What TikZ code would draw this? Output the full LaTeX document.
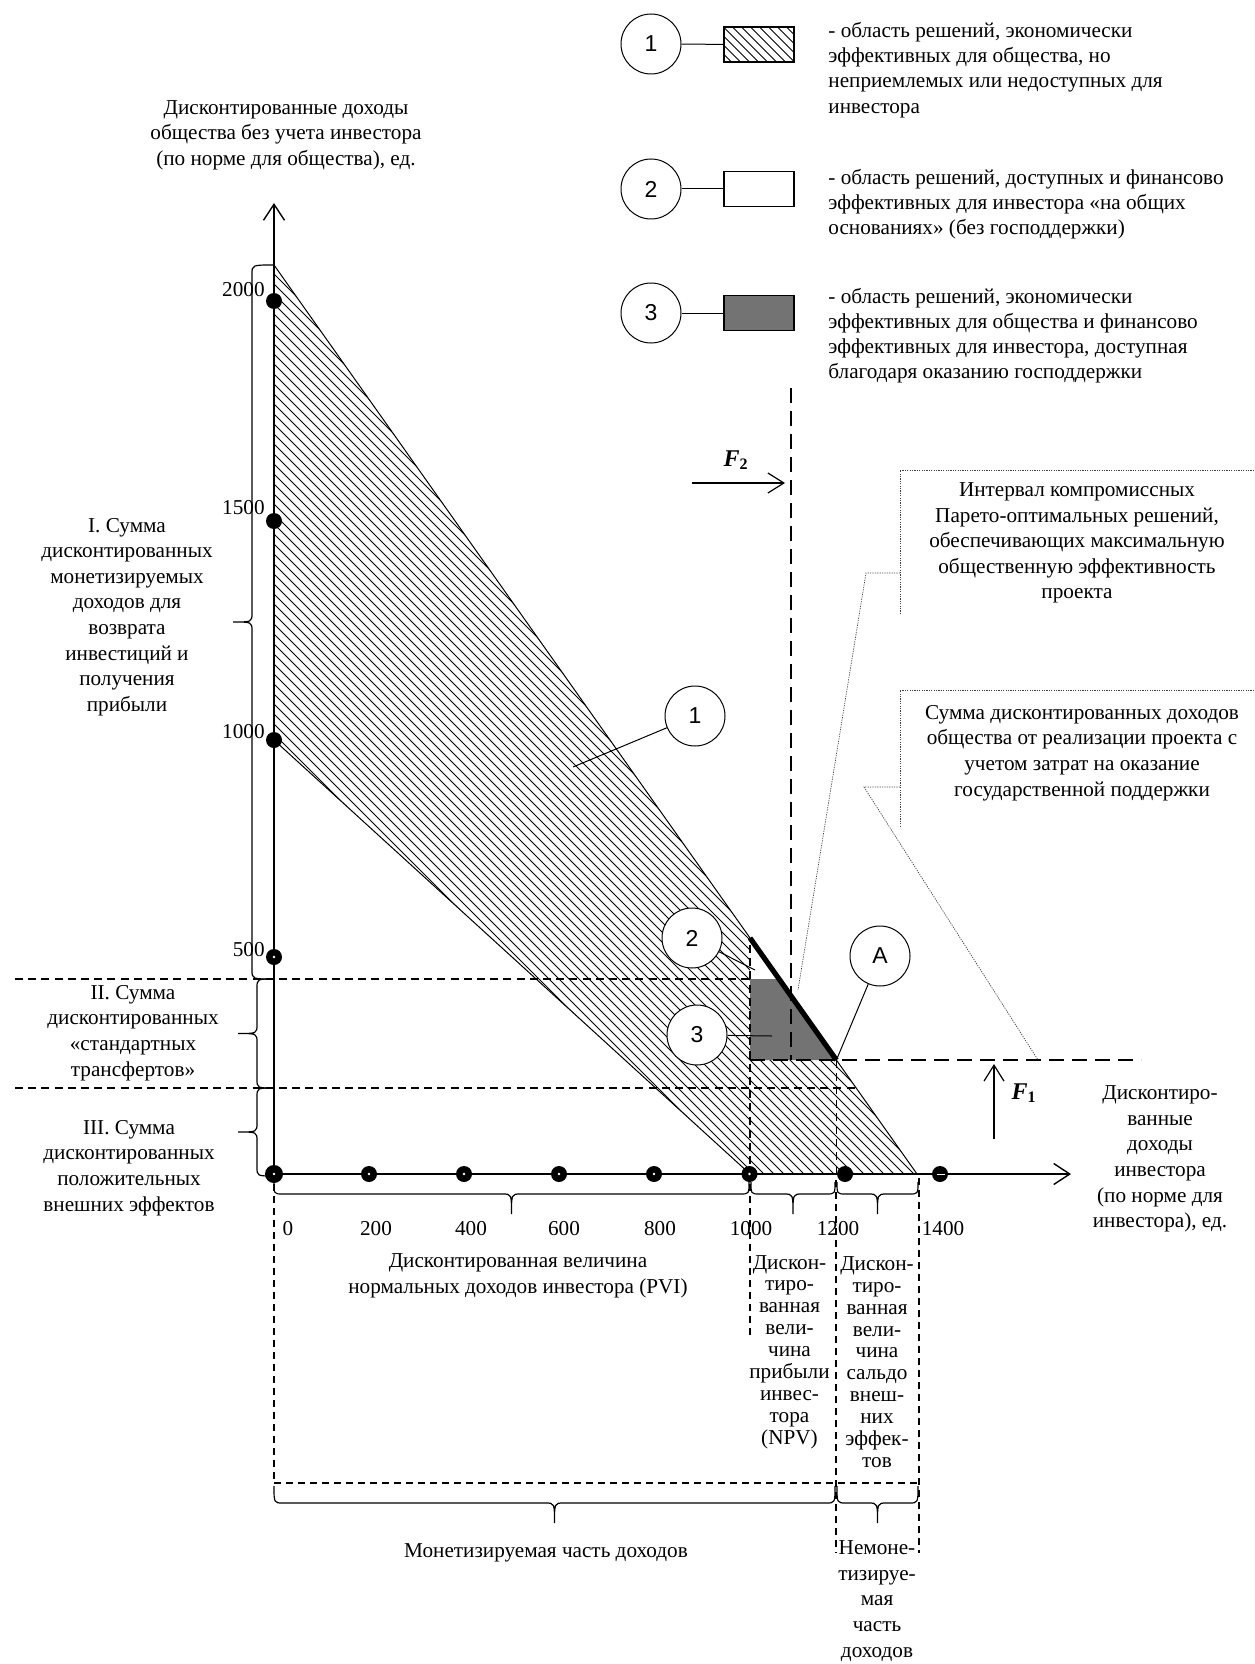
\documentclass[tikz,border=0pt]{standalone}
\usepackage{fontspec}
\setmainfont{Liberation Serif}
\newfontfamily\sansf{Liberation Sans}
\usetikzlibrary{arrows.meta,calc}

% vertical brace opening to the right, tip to the left
\newcommand{\vbrace}[5]{%
  \pgfmathsetmacro{\bym}{(#4+#5)/2}%
  \draw[brc] (#1,#4) .. controls (#2,#4) .. (#2,#4+9)
     -- (#2,\bym-9) .. controls (#2,\bym) .. (#3,\bym)
     .. controls (#2,\bym) .. (#2,\bym+9)
     -- (#2,#5-9) .. controls (#2,#5) .. (#1,#5);}
% horizontal brace, tip downwards
\newcommand{\hbrace}[5]{%
  \pgfmathsetmacro{\bxm}{(#4+#5)/2}%
  \draw[brc] (#4,#1) .. controls (#4,#2) .. (#4+9,#2)
    -- (\bxm-9,#2) .. controls (\bxm,#2) .. (\bxm,#3)
    .. controls (\bxm,#2) .. (\bxm+9,#2)
    -- (#5-9,#2) .. controls (#5,#2) .. (#5,#1);}

\begin{document}
\begin{tikzpicture}[x=0.5pt,y=-0.5pt,
  every node/.style={inner sep=0pt},
  txt/.style={font=\fontsize{10.6pt}{12.8pt}\selectfont, align=center},
  coltxt/.style={font=\fontsize{10.6pt}{10.95pt}\selectfont, align=center},
  legtxt/.style={font=\fontsize{10.6pt}{12.6pt}\selectfont, align=left, anchor=west},
  circ/.style={circle, draw, line width=0.5pt, fill=white, minimum size=30pt, font=\sansf\fontsize{11.5pt}{12pt}\selectfont},
  legbox/.style={draw, line width=0.6pt, minimum width=35pt, minimum height=17.5pt},
  plainln/.style={line width=0.5pt},
  axisln/.style={line width=1.3pt, -{Straight Barb[length=8pt,width=10.5pt,line width=0.7pt]}},
  farrow/.style={line width=0.6pt, -{Straight Barb[length=8pt,width=10pt,line width=0.6pt]}},
  dsh/.style={line width=0.7pt, dash pattern=on 4pt off 2.6pt},
  vdsh/.style={line width=0.9pt, dash pattern=on 3.5pt off 2.5pt},
  fdsh/.style={line width=1.1pt, dash pattern=on 7.5pt off 4pt},
  dotln/.style={line width=0.35pt, black!75, dash pattern=on 0.6pt off 0.6pt},
  brc/.style={line width=0.6pt},
  pdot/.style={circle, fill=black, minimum size=8pt, inner sep=0pt},
  hatchln/.style={line width=0.4pt},
  flab/.style={font=\fontsize{12pt}{13pt}\selectfont}
]
\useasboundingbox (0,0) rectangle (1254,1664);

% ---------- region 1 hatching ----------
\begin{scope}
  \clip (274,265) -- (917,1174) -- (750,1174) -- (274,740) -- cycle;
  \foreach \hc in {-10,0,...,470} \draw[hatchln] (250,250+\hc) -- (950,950+\hc);
\end{scope}
% region 2 (white) and region 3 (dark)
\fill[white] (750,938) -- (750,979) -- (779.1,979) -- cycle;
\fill[black!55] (750,979) -- (779.1,979) -- (836.4,1060) -- (750,1060) -- cycle;
% boundaries
\draw[plainln] (274,265) -- (917,1174);
\draw[plainln] (274,740) -- (750,1174);

% ---------- dashed lines ----------
\draw[dsh] (15,979) -- (750,979);
\draw[dsh] (15,1088) -- (856,1088);
\draw[dsh] (750,945) -- (750,1174);
\draw[dsh] (836.4,1060) -- (836.4,1174);
\draw[vdsh] (274,1184) -- (274,1483);
\draw[vdsh] (750,1184) -- (750,1335);
\draw[vdsh] (836,1180) -- (836,1553);
\draw[vdsh] (919,1178) -- (919,1553);
\draw[vdsh] (274,1483) -- (919,1483);
\draw[fdsh] (791,388) -- (791,1060);
\draw[fdsh] (750,1060) -- (1141,1060);

% thick Pareto segment
\draw[line width=2.6pt] (750,938) -- (836.4,1060);

% ---------- axes ----------
\draw[axisln] (274,1174) -- (274,203);
\draw[axisln] (274,1174) -- (1071,1174);

% dots on the axes
\node[pdot] (y2000) at (274,301) {};
\node[pdot] (y1500) at (274,521) {};
\node[pdot] (y1000) at (274,740) {};
\node[pdot] (y500) at (274,957) {};
\node[pdot, minimum size=9pt] (x0) at (274,1174) {};
\node[pdot] (x200) at (369,1174) {};
\node[pdot] (x400) at (464,1174) {};
\node[pdot] (x600) at (559,1174) {};
\node[pdot] (x800) at (654,1174) {};
\node[pdot] (x1000) at (749.5,1174) {};
\node[pdot] (x1200) at (845,1174) {};
\node[pdot] (x1400) at (940,1174) {};
\foreach \dn in {y500,x0,x200,x400,x600,x800,x1000}
  \fill[white] (\dn) circle (1.3);
\fill[white] ($(x1400)+(-3,0)$) rectangle ($(x1400)+(5,1)$);

% axis values
\node[txt, anchor=east] (l2000) at (265,290) {2000};
\node[txt, anchor=east] (l1500) at (265,508) {1500};
\node[txt, anchor=east] (l1000) at (265,732) {1000};
\node[txt, anchor=east] (l500) at (265,950) {500};
\node[txt] (lx0) at (288,1229) {0};
\node[txt] (lx200) at (376,1229) {200};
\node[txt] (lx400) at (471,1229) {400};
\node[txt] (lx600) at (564,1229) {600};
\node[txt] (lx800) at (660,1229) {800};
\node[txt] (lx1000) at (751,1229) {1000};
\node[txt] (lx1200) at (838,1229) {1200};
\node[txt] (lx1400) at (943,1229) {1400};

% ---------- braces ----------
\vbrace{274}{252}{233}{265}{979}
\vbrace{274}{257}{238}{979}{1088}
\vbrace{274}{257}{238}{1088}{1176}
\hbrace{1182}{1194}{1214}{274}{749}
\hbrace{1182}{1194}{1214}{751}{835}
\hbrace{1182}{1194}{1214}{837}{918}
\hbrace{1486}{1503}{1523}{274}{835}
\hbrace{1486}{1503}{1523}{837}{918}

% ---------- F arrows ----------
\coordinate (f2s) at (692,483);
\coordinate (f2e) at (785,483);
\draw[farrow] (f2s) -- (f2e);
\node[flab] (F2) at (736,460) {\textbf{\textit{F}}\textsubscript{\textbf{2}}};
\coordinate (f1s) at (994,1139);
\coordinate (f1e) at (994,1064);
\draw[farrow] (f1s) -- (f1e);
\node[flab] (F1) at (1024,1093) {\textbf{\textit{F}}\textsubscript{\textbf{1}}};

% ---------- circle labels in the plot ----------
\coordinate (p1) at (573,767);
\coordinate (p2) at (755,970);
\coordinate (p3) at (772,1036);
\coordinate (pA) at (836.4,1060);
\node[circ] (c1) at (695,716) {1};
\node[circ] (c2) at (692,938) {2};
\node[circ] (c3) at (697,1035) {3};
\node[circ] (cA) at (880,956) {A};
\draw[plainln] (c1) -- (p1);
\draw[plainln] (c2) -- (p2);
\draw[plainln] (c3) -- (p3);
\draw[plainln] (cA) -- (pA);

% ---------- annotation boxes ----------
\draw[dotln] (1254,470) -- (900,470) -- (900,615);
\coordinate (i1) at (900,573);
\coordinate (i2) at (866,573);
\coordinate (i3) at (798,990);
\draw[dotln] (i1) -- (i2) -- (i3);
\node[txt] (tint) at (1077,543) {Интервал компромиссных\\Парето-оптимальных решений,\\обеспечивающих максимальную\\общественную эффективность\\проекта};
\draw[dotln] (1254,690) -- (900,690) -- (900,828);
\coordinate (s1) at (900,787);
\coordinate (s2) at (864,787);
\coordinate (s3) at (1038,1060);
\draw[dotln] (s1) -- (s2) -- (s3);
\node[txt] (tsum) at (1082,753) {Сумма дисконтированных доходов\\общества от реализации проекта с\\учетом затрат на оказание\\государственной поддержки};

% ---------- legend ----------
\node[circ] (L1) at (651,44) {1};
\node[legbox] (B1) at (759,44.5) {};
\begin{scope}
  \clip (B1.south west) rectangle (B1.north east);
  \foreach \hc in {-90,-81,...,90}
    \draw[hatchln] ($(B1.center)+(\hc-40,-40)$) -- ($(B1.center)+(\hc+40,40)$);
\end{scope}
\draw[line width=0.6pt] (B1.south west) rectangle (B1.north east);
\draw[plainln] (L1) -- (B1);
\node[legtxt] (T1) at (828,70) {- область решений, экономически\\эффективных для общества, но\\неприемлемых или недоступных для\\инвестора};

\node[circ] (L2) at (651,189) {2};
\node[legbox] (B2) at (759,189) {};
\draw[plainln] (L2) -- (B2);
\node[legtxt] (T2) at (828,204) {- область решений, доступных и финансово\\эффективных для инвестора «на общих\\основаниях» (без господдержки)};

\node[circ] (L3) at (651,313) {3};
\node[legbox, fill=black!55] (B3) at (759,313) {};
\draw[plainln] (L3) -- (B3);
\node[legtxt] (T3) at (828,335.5) {- область решений, экономически\\эффективных для общества и финансово\\эффективных для инвестора, доступная\\благодаря оказанию господдержки};

% ---------- texts ----------
\node[txt] (ytitle) at (286,135) {Дисконтированные доходы\\общества без учета инвестора\\(по норме для общества), ед.};
\node[txt] (tI) at (127,617) {I. Сумма\\дисконтированных\\монетизируемых\\доходов для\\возврата\\инвестиций и\\получения\\прибыли};
\node[txt] (tII) at (133,1033) {II. Сумма\\дисконтированных\\«стандартных\\трансфертов»};
\node[txt] (tIII) at (129,1168) {III. Сумма\\дисконтированных\\положительных\\внешних эффектов};
\node[txt] (tpvi) at (518,1276) {Дисконтированная величина\\нормальных доходов инвестора (PVI)};
\node[coltxt] (tnpv) at (789.5,1352) {Дискон-\\тиро-\\ванная\\вели-\\чина\\прибыли\\инвес-\\тора\\(NPV)};
\node[coltxt] (text) at (877,1362) {Дискон-\\тиро-\\ванная\\вели-\\чина\\сальдо\\внеш-\\них\\эффек-\\тов};
\node[txt] (txax) at (1160,1159) {Дисконтиро-\\ванные\\доходы\\инвестора\\(по норме для\\инвестора), ед.};
\node[txt] (tmon) at (546,1553) {Монетизируемая часть доходов};
\node[txt] (tnon) at (877,1601) {Немоне-\\тизируе-\\мая\\часть\\доходов};
\end{tikzpicture}
\end{document}
